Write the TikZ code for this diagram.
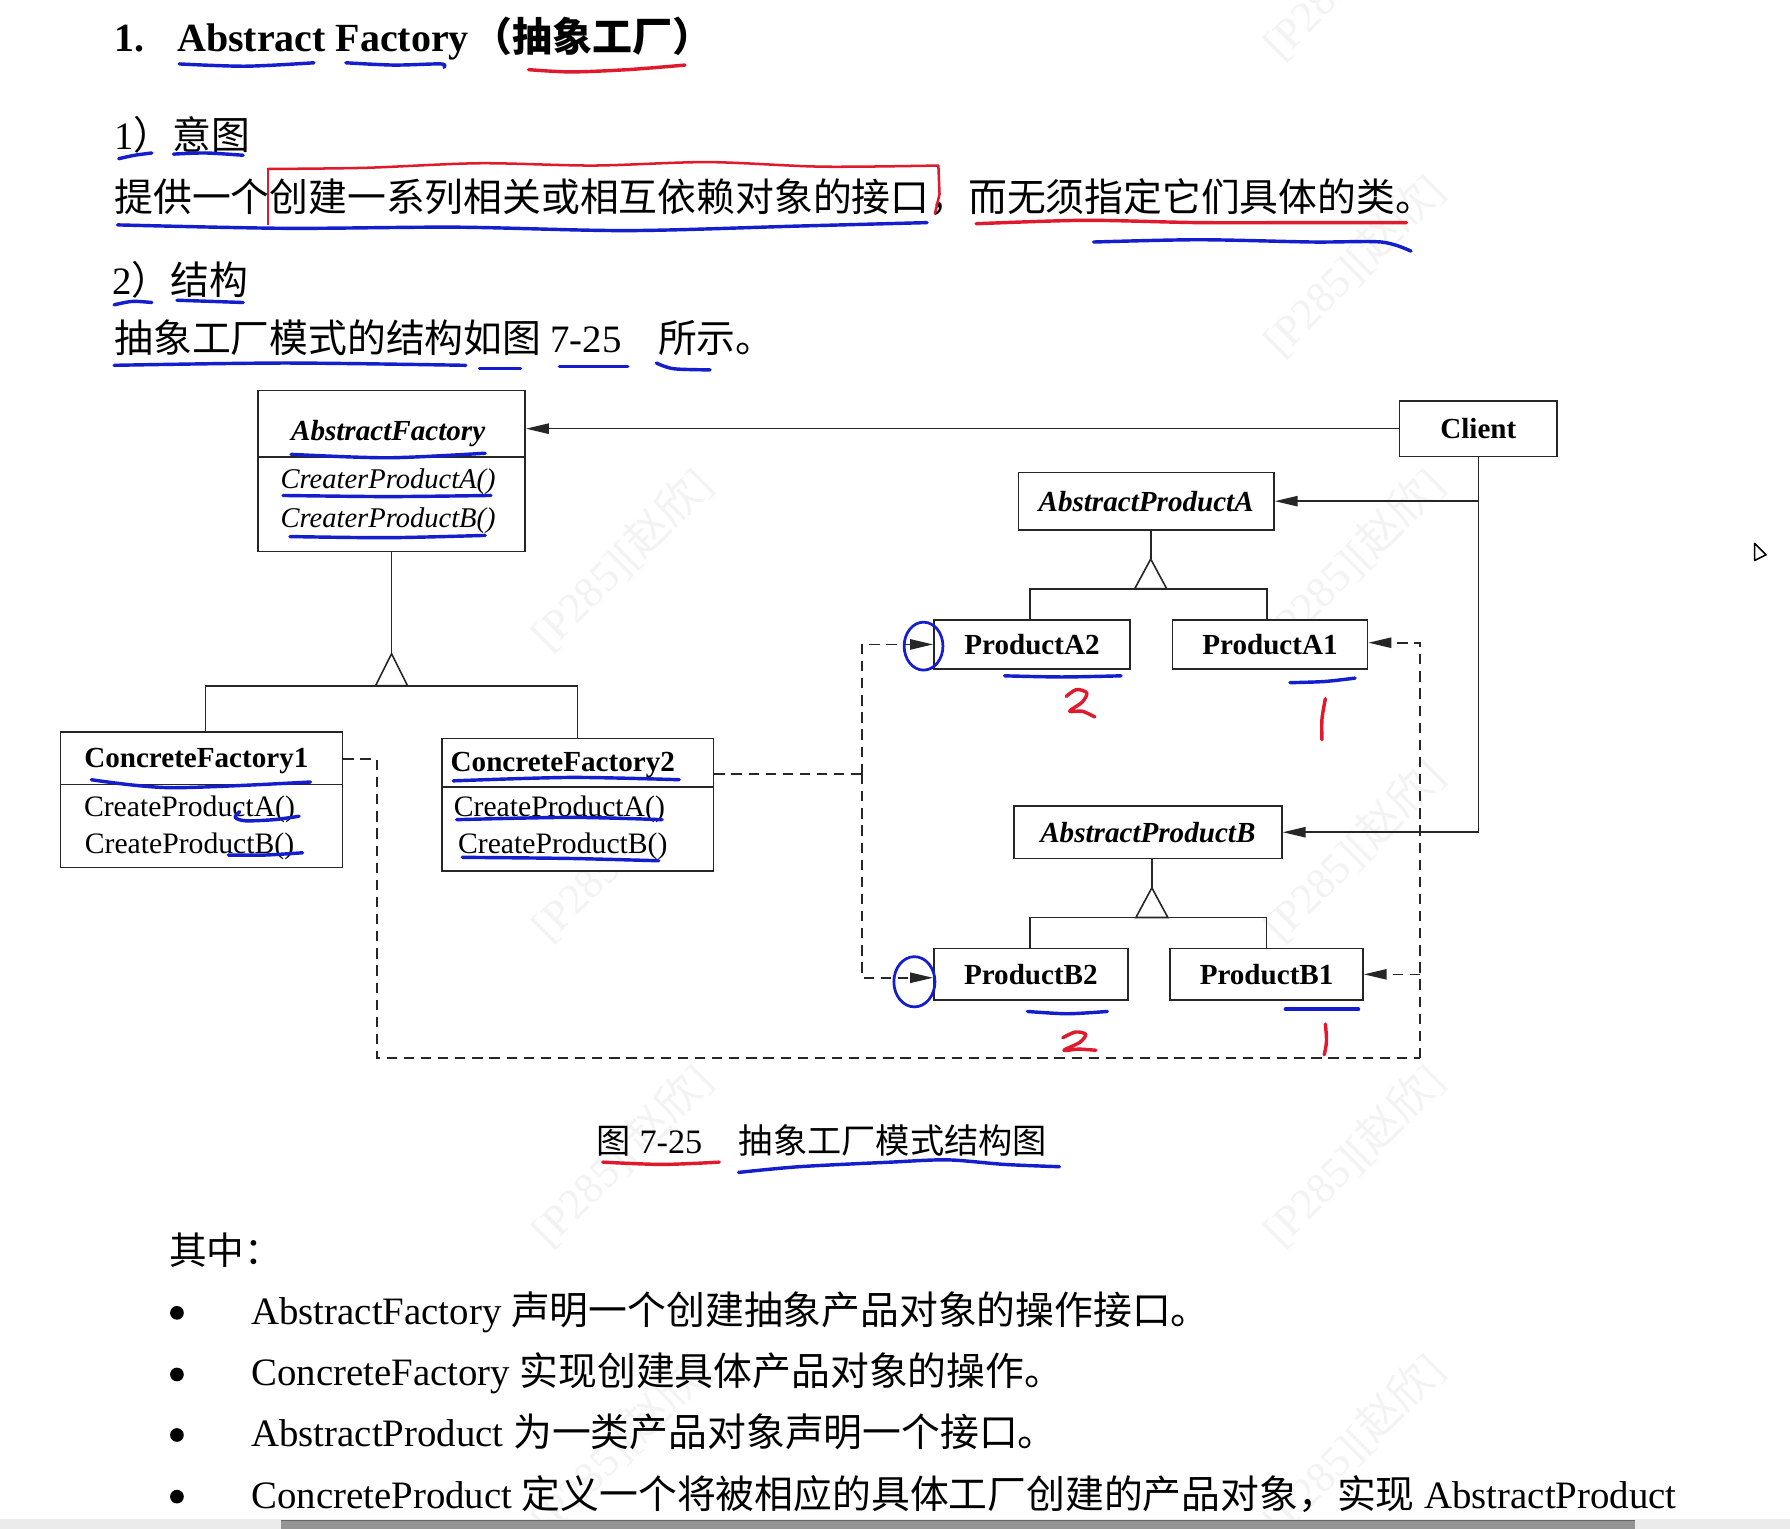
\documentclass[tikz,border=0pt]{standalone}
\usepackage{fontspec}
\setmainfont{Liberation Serif}
\newfontfamily\cjk{Noto Sans CJK SC}
\usetikzlibrary{arrows.meta}
\definecolor{inkblue}{RGB}{20,30,205}
\definecolor{inkred}{RGB}{225,25,45}
\definecolor{wmark}{RGB}{243,243,243}
\begin{document}
\begin{tikzpicture}[x=1pt,y=-1pt]
\tikzset{
  txt/.style={anchor=base west, inner sep=0pt, font=\fontsize{34}{40}\selectfont},
  clsbox/.style={draw=black!85, line width=1.4pt, inner sep=0pt, fill=white},
  nm/.style={anchor=base, inner sep=0pt, font=\fontsize{25.5}{30}\selectfont\bfseries},
  inm/.style={anchor=base, inner sep=0pt, font=\fontsize{25.5}{30}\selectfont\bfseries\itshape},
  mth/.style={anchor=base, inner sep=0pt, font=\fontsize{26}{30}\selectfont},
  imth/.style={anchor=base, inner sep=0pt, font=\fontsize{25}{30}\selectfont\itshape},
  solidline/.style={draw=black!85, line width=1.4pt},
  depline/.style={draw=black!85, line width=1.4pt, dash pattern=on 9pt off 6pt},
  arrhead/.style={-{Triangle[length=20pt,width=9pt]}},
  bink/.style={draw=inkblue, line width=3pt, line cap=round, line join=round},
  rink/.style={draw=inkred, line width=3pt, line cap=round, line join=round},
  wm/.style={inner sep=0pt, text=wmark, font=\fontsize{38}{40}\selectfont, rotate=45},
  bul/.style={circle, fill=black, inner sep=0pt, minimum size=12pt},
}
\useasboundingbox (0,0) rectangle (1568,1339);
\fill[white] (0,0) rectangle (1568,1339);

% watermarks
\node[wm] (w0) at (1185,-28) {[P285][{\cjk 赵欣}]};
\node[wm] (w1) at (1185,232) {[P285][{\cjk 赵欣}]};
\node[wm] (w2) at (544,490) {[P285][{\cjk 赵欣}]};
\node[wm] (w3) at (1185,490) {[P285][{\cjk 赵欣}]};
\node[wm] (w4) at (544,745) {[P285][{\cjk 赵欣}]};
\node[wm] (w5) at (1185,745) {[P285][{\cjk 赵欣}]};
\node[wm] (w6) at (544,1012) {[P285][{\cjk 赵欣}]};
\node[wm] (w7) at (1185,1012) {[P285][{\cjk 赵欣}]};
\node[wm] (w8) at (544,1265) {[P285][{\cjk 赵欣}]};
\node[wm] (w9) at (1185,1265) {[P285][{\cjk 赵欣}]};

% heading text
\node[txt, font=\fontsize{35}{40}\selectfont\bfseries] (t1n) at (100,45) {1.};
\node[txt, font=\fontsize{35}{40}\selectfont\bfseries] (t1a) at (155,45) {Abstract Factory};
\node[txt, font=\fontsize{35}{40}\selectfont\cjk\bfseries] (t1c) at (414,45) {（抽象工厂）};
\node[txt] (h1) at (100,131) {1{\cjk ）意图}};
\node[txt] (l2) at (100,185) {\cjk 提供一个创建一系列相关或相互依赖对象的接口，而无须指定它们具体的类。};
\node[txt] (h2) at (98,258) {2{\cjk ）结构}};
\node[txt] (l4) at (100,309) {{\cjk 抽象工厂模式的结构如图}\hspace{8pt}7-25\hspace{32pt}{\cjk 所示。}};

% diagram boxes
\node[clsbox, minimum width=234pt, minimum height=141pt] (af) at (343,412.5) {};
\draw[solidline] ([yshift=-59pt]af.north west) -- ([yshift=-59pt]af.north east);
\node[inm] (afn) at (340,386) {AbstractFactory};
\node[imth] (afa) at (340,428) {CreaterProductA()};
\node[imth] (afb) at (340,462) {CreaterProductB()};

\node[clsbox, minimum width=138pt, minimum height=49pt, font=\fontsize{25.5}{30}\selectfont\bfseries] (cl) at (1295,375.5) {Client};

\node[clsbox, minimum width=224pt, minimum height=50pt, font=\fontsize{25.5}{30}\selectfont\bfseries\itshape] (apa) at (1004,439) {AbstractProductA};
\node[clsbox, minimum width=172pt, minimum height=43pt, font=\fontsize{25.5}{30}\selectfont\bfseries] (pa2) at (904,564.5) {ProductA2};
\node[clsbox, minimum width=171pt, minimum height=43pt, font=\fontsize{25.5}{30}\selectfont\bfseries] (pa1) at (1112.5,564.5) {ProductA1};

\node[clsbox, minimum width=235pt, minimum height=46pt, font=\fontsize{25.5}{30}\selectfont\bfseries\itshape] (apb) at (1005.5,729) {AbstractProductB};
\node[clsbox, minimum width=170pt, minimum height=45pt, font=\fontsize{25.5}{30}\selectfont\bfseries] (pb2) at (903,853.5) {ProductB2};
\node[clsbox, minimum width=169pt, minimum height=45pt, font=\fontsize{25.5}{30}\selectfont\bfseries] (pb1) at (1109.5,853.5) {ProductB1};

\node[clsbox, minimum width=247pt, minimum height=119pt] (cf1) at (176.5,700.5) {};
\draw[solidline] ([yshift=-47pt]cf1.north west) -- ([yshift=-47pt]cf1.north east);
\node[nm] (cf1n) at (172,672) {ConcreteFactory1};
\node[mth] (cf1a) at (166,715) {CreateProductA()};
\node[mth] (cf1b) at (166,748) {CreateProductB()};

\node[clsbox, minimum width=238pt, minimum height=116pt] (cf2) at (506,705) {};
\draw[solidline] ([yshift=-43pt]cf2.north west) -- ([yshift=-43pt]cf2.north east);
\node[nm] (cf2n) at (493,676) {ConcreteFactory2};
\node[mth] (cf2a) at (490,715) {CreateProductA()};
\node[mth] (cf2b) at (493,748) {CreateProductB()};

% client associations
\draw[solidline, arrhead] (cl.west) -- (cl.west -| af.east);
\draw[solidline, arrhead] (cl.south) |- (apb.east);
\draw[solidline, arrhead] (cl.south |- apa.east) -- (apa.east);

% inheritance: factories
\draw[solidline] (af.south) -- ++(0,89) coordinate (afT);
\path (afT) ++(0,28) coordinate (afB);
\draw[solidline] ([xshift=3.5pt]cf1.north) |- (afB) -| (cf2.north);
\draw[solidline, fill=white] (afT) -- ++(-14,28) -- ++(28,0) -- cycle;

% inheritance: products A
\draw[solidline] ([xshift=4pt]apa.south) -- ++(0,25) coordinate (aT);
\path (aT) ++(0,26) coordinate (aB);
\draw[solidline] ([xshift=-2pt]pa2.north) |- (aB) -| ([xshift=-2.5pt]pa1.north);
\draw[solidline, fill=white] (aT) -- ++(-14,26) -- ++(28,0) -- cycle;

% inheritance: products B
\draw[solidline] ([xshift=3.5pt]apb.south) -- ++(0,25) coordinate (bT);
\path (bT) ++(0,26) coordinate (bB);
\draw[solidline] ([xshift=-1pt]pb2.north) |- (bB) -| (pb1.north);
\draw[solidline, fill=white] (bT) -- ++(-14,26) -- ++(28,0) -- cycle;

% dependencies
\coordinate (jl) at (755,678);
\draw[depline] ([yshift=27pt]cf2.east) -- (jl);
\draw[depline, arrhead] (jl) |- (pa2.west);
\draw[depline, arrhead] (jl) |- ([yshift=-3pt]pb2.west);
\coordinate (k1) at (330,927);
\coordinate (k2) at (1244,927);
\draw[depline] ([yshift=35.5pt]cf1.east) -| (k1) -- (k2);
\draw[depline, arrhead] (k2) |- ([yshift=1.5pt]pa1.east);
\draw[depline, arrhead] (k2 |- pb1.east) -- (pb1.east);

% caption and notes
\node[txt, font=\fontsize{30}{36}\selectfont] (cap) at (522,1010) {{\cjk 图}\hspace{8pt}7-25\hspace{32pt}{\cjk 抽象工厂模式结构图}};
\node[txt, font=\fontsize{33}{40}\selectfont] (qz) at (148,1108) {\cjk 其中：};
\node[bul] (b1) at (155,1150) {};
\node[bul] (b2) at (155,1204) {};
\node[bul] (b3) at (155,1257) {};
\node[bul] (b4) at (155,1311) {};
\node[txt] (n1) at (220,1160) {AbstractFactory {\cjk 声明一个创建抽象产品对象的操作接口。}};
\node[txt] (n2) at (220,1214) {ConcreteFactory {\cjk 实现创建具体产品对象的操作。}};
\node[txt] (n3) at (220,1267) {AbstractProduct {\cjk 为一类产品对象声明一个接口。}};
\node[txt] (n4) at (220,1321) {ConcreteProduct {\cjk 定义一个将被相应的具体工厂创建的产品对象，实现} AbstractProduct};

% handwritten annotations
\draw[bink] plot[smooth] coordinates {(157,56) (215,58) (275,55)};
\draw[bink] plot[smooth] coordinates {(303,55) (345,57) (386,56) (389,59)};
\draw[rink] plot[smooth] coordinates {(463,61) (500,63) (550,61) (600,57)};
\draw[bink] plot[smooth] coordinates {(104,139) (118,136) (133,134)};
\draw[bink] plot[smooth] coordinates {(152,135) (180,134) (213,136)};
\draw[draw=inkred, line width=1.6pt, line join=round] (235,197) -- (235,147);
\draw[draw=inkred, line width=2.2pt, line cap=round, line join=round] plot[smooth] coordinates {(235,148) (320,147) (420,143) (520,145) (620,142) (720,146) (822,145)} -- (823,170) -- (819,187);
\draw[bink] plot[smooth] coordinates {(103,197) (250,200) (400,199) (550,202) (700,198) (812,195)};
\draw[rink] plot[smooth] coordinates {(855,196) (950,193) (1050,195) (1150,195) (1232,195)};
\draw[bink] plot[smooth] coordinates {(958,212) (1050,210) (1150,212) (1210,212) (1236,220)};
\draw[bink] plot[smooth] coordinates {(100,267) (116,264) (133,265)};
\draw[bink] plot[smooth] coordinates {(155,263) (185,264) (213,265)};
\draw[bink] plot[smooth] coordinates {(100,320) (250,318) (408,320)};
\draw[bink] plot[smooth] coordinates {(420,323) (456,323)};
\draw[bink] plot[smooth] coordinates {(490,321) (550,321)};
\draw[bink] plot[smooth] coordinates {(575,318) (590,323) (622,324)};

\draw[bink] plot[smooth] coordinates {(255,398) (340,401) (425,397)};
\draw[bink] plot[smooth] coordinates {(248,434) (340,435) (430,434)};
\draw[bink] plot[smooth] coordinates {(254,470) (340,471) (425,469)};
\draw[bink] plot[smooth] coordinates {(80,683) (150,690) (272,685)};
\draw[bink] plot[smooth] coordinates {(210,711) (206,716) (215,719) (240,718) (262,715)};
\draw[bink] plot[smooth] coordinates {(200,749) (232,749) (265,747)};
\draw[bink] plot[smooth] coordinates {(397,684) (500,681) (595,683)};
\draw[bink] plot[smooth] coordinates {(400,718) (500,716) (580,718)};
\draw[bink] plot[smooth] coordinates {(405,751) (500,752) (577,754)};

\draw[bink] plot[smooth] coordinates {(880,592) (930,593) (982,592)};
\draw[rink] plot[smooth] coordinates {(934,610) (943,604) (952,607) (948,615) (937,623) (948,623) (959,628)};
\draw[bink] plot[smooth] coordinates {(1130,598) (1160,597) (1187,594)};
\draw[rink] plot[smooth] coordinates {(1161,612) (1158,630) (1158,648)};
\draw[bink] plot[smooth] coordinates {(900,886) (935,888) (970,886)};
\draw[rink] plot[smooth] coordinates {(931,909) (942,904) (951,906) (946,913) (932,920) (945,919) (960,920)};
\draw[bink] plot[smooth] coordinates {(1126,884) (1160,884) (1190,884)};
\draw[rink] plot[smooth] coordinates {(1161,897) (1162,912) (1160,924)};
\draw[draw=inkblue, line width=2.4pt] (809,566) ellipse [x radius=17, y radius=21];
\draw[draw=inkblue, line width=2.4pt] (801,860) ellipse [x radius=18, y radius=22];

\draw[rink] plot[smooth] coordinates {(528,1018) (580,1020) (630,1018)};
\draw[bink] plot[smooth] coordinates {(647,1027) (700,1022) (780,1018) (830,1016) (880,1020) (928,1022)};

% cursor
\draw[line width=1.4pt, fill=white, line join=round] (1537,476) -- (1537,491) -- (1547,486) -- cycle;

% bottom scrollbar
\fill[black!8] (0,1331) rectangle (1568,1339);
\fill[black!42] (246,1332) rectangle (1432,1339);
\draw[black!60, line width=1pt] (246,1332) -- (1432,1332);
\end{tikzpicture}
\end{document}
